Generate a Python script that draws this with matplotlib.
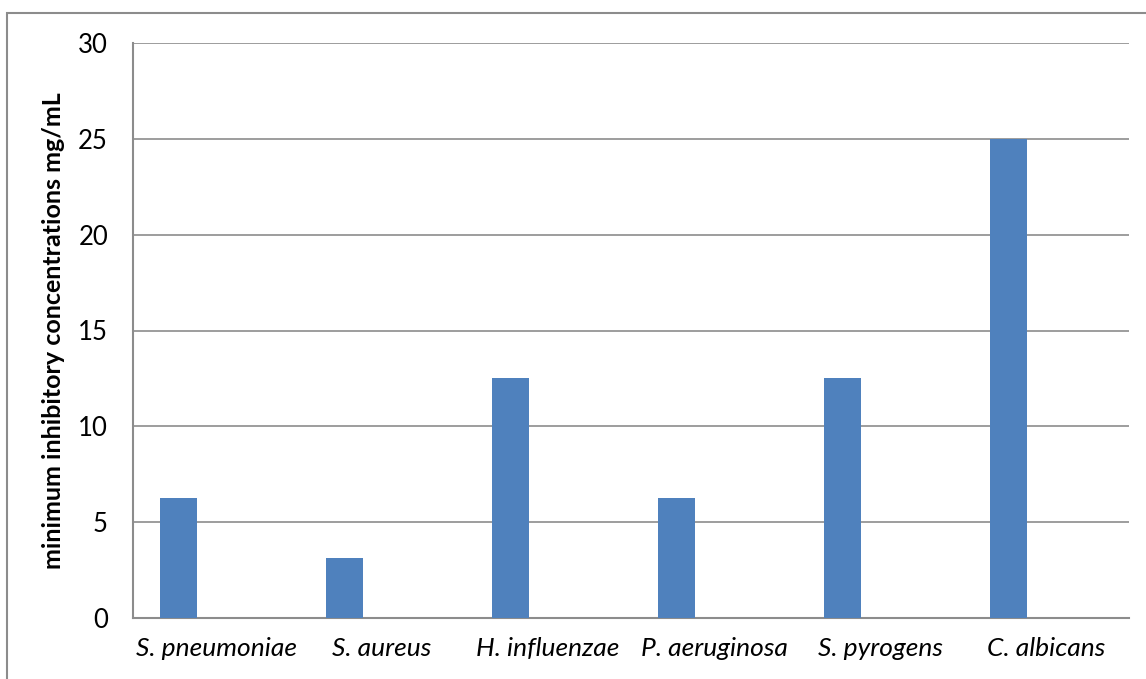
import numpy as np
import matplotlib
matplotlib.use("Agg")
import matplotlib.pyplot as plt
from matplotlib.patches import Rectangle

organisms = ["S. pneumoniae", "S. aureus", "H. influenzae", "P. aeruginosa",
             "S. pyrogens", "C. albicans"]
mic_values = [6.25, 3.125, 12.5, 6.25, 12.5, 25]
y_ticks = [0, 5, 10, 15, 20, 25, 30]

plt.rcParams["font.family"] = ["Lato", "DejaVu Sans"]

fig = plt.figure(figsize=(11.46, 6.79), dpi=100)
ax = fig.add_axes([133 / 1146, 1 - 618 / 679, (1129 - 133) / 1146, (618 - 43) / 679])

# outer chart frame like Excel
fig.patches.append(Rectangle((7 / 1146, -0.05), 1.1, 1 - 13 / 679 + 0.05,
                             transform=fig.transFigure, fill=False,
                             edgecolor="#8c8c8c", linewidth=1.5))

x = np.arange(len(organisms))
ax.bar(x - 0.226, mic_values, width=0.223, color="#4F81BD", zorder=3)

ax.set_xlim(-0.5, len(organisms) - 0.5)
ax.set_ylim(0, 30)
ax.set_yticks(y_ticks)
ax.yaxis.grid(True, color="#8c8c8c", linewidth=1.2, zorder=0)
ax.set_xticks(x)
ax.set_xticklabels(organisms, fontstyle="italic", fontsize=19)
ax.tick_params(axis="x", length=0, pad=14)
ax.tick_params(axis="y", length=0, pad=18, labelsize=18.5)

for side in ["top", "right"]:
    ax.spines[side].set_visible(False)
for side in ["left", "bottom"]:
    ax.spines[side].set_color("#8c8c8c")
    ax.spines[side].set_linewidth(1.5)

ax.set_ylabel("minimum inhibitory concentrations mg/mL", fontsize=18,
              fontweight="bold", labelpad=9)

fig.savefig("out.png", dpi=100)
